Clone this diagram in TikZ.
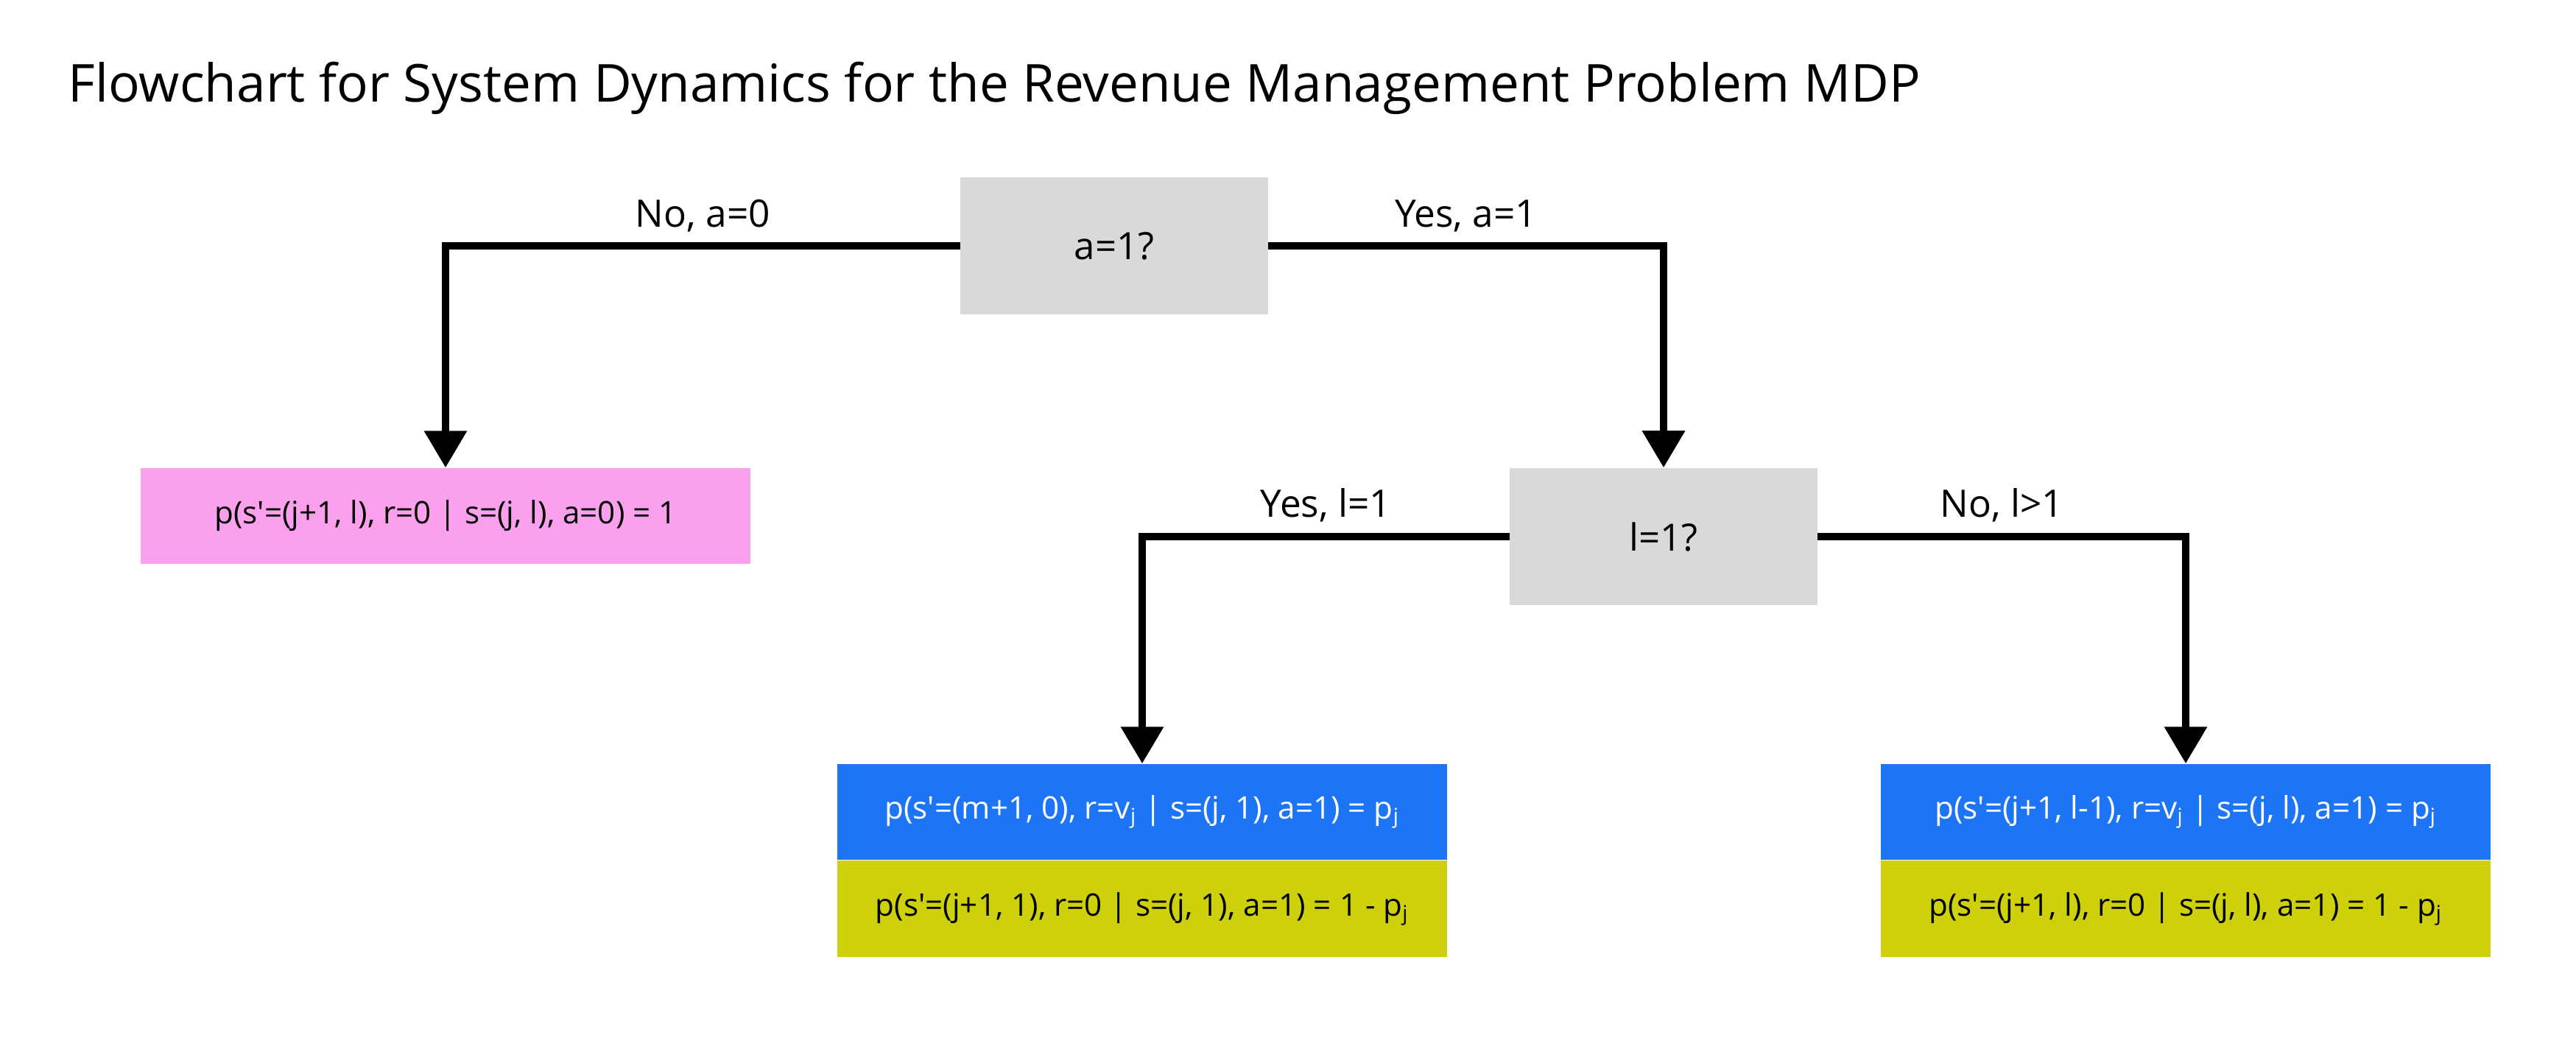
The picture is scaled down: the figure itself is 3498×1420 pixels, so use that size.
\documentclass[tikz,border=0pt]{standalone}
\usepackage{fontspec}
\setmainfont{Open Sans}
\usetikzlibrary{positioning,arrows.meta}
\definecolor{askgray}{RGB}{217,217,217}
\definecolor{staypink}{RGB}{250,160,236}
\definecolor{sellblue}{RGB}{29,116,245}
\definecolor{keepyellow}{RGB}{206,208,12}
\newcommand{\qt}{\textquotesingle}

\begin{document}
\begin{tikzpicture}[x=0.01cm,y=-0.01cm,
  ask/.style={fill=askgray,minimum width=4.17cm,minimum height=1.86cm,font=\fontsize{14.5}{16}\selectfont},
  prob/.style={minimum width=8.28cm,minimum height=1.3cm,inner sep=0pt,font=\fontsize{12}{14}\selectfont},
  flow/.style={line width=0.1cm,-{Triangle[length=0.5cm,width=0.56cm]}},
  lab/.style={anchor=base,yshift=0.26cm,font=\fontsize{14.6}{16}\selectfont}]
  \useasboundingbox (0,0) rectangle (3498,1420);
  % title
  \node[anchor=base west,inner sep=0pt,font=\fontsize{20.2}{22}\selectfont] (title) at (92,138)
    {Flowchart for System Dynamics for the Revenue Management Problem MDP};
  % questions
  \node[ask] (a1) at (1513,334) {a=1?};
  \node[ask] (l1) at (2259,729) {l=1?};
  % outcomes
  \node[prob,fill=staypink] (stay) at (605,701)
    {p(s\qt=(j+1, l), r=0 | s=(j, l), a=0) = 1};
  \node[prob,fill=sellblue,text=white] (lastsell) at (1551,1103)
    {p(s\qt=(m+1, 0), r=v\textsubscript{j} | s=(j, 1), a=1) = p\textsubscript{j}};
  \node[prob,fill=keepyellow,below=0pt of lastsell] (lastkeep)
    {p(s\qt=(j+1, 1), r=0 | s=(j, 1), a=1) = 1 - p\textsubscript{j}};
  \node[prob,fill=sellblue,text=white] (sell) at (2968,1103)
    {p(s\qt=(j+1, l-1), r=v\textsubscript{j} | s=(j, l), a=1) = p\textsubscript{j}};
  \node[prob,fill=keepyellow,below=0pt of sell] (keep)
    {p(s\qt=(j+1, l), r=0 | s=(j, l), a=1) = 1 - p\textsubscript{j}};
  % branches
  \draw[flow] (a1.west) -| node[lab,pos=0.25] {No, a=0} (stay.north);
  \draw[flow] (a1.east) -| node[lab,pos=0.25] {Yes, a=1} (l1.north);
  \draw[flow] (l1.west) -| node[lab,pos=0.25,yshift=0.01cm] {Yes, l=1} (lastsell.north);
  \draw[flow] (l1.east) -| node[lab,pos=0.25,yshift=0.01cm] {No, l>1} (sell.north);
\end{tikzpicture}
\end{document}
